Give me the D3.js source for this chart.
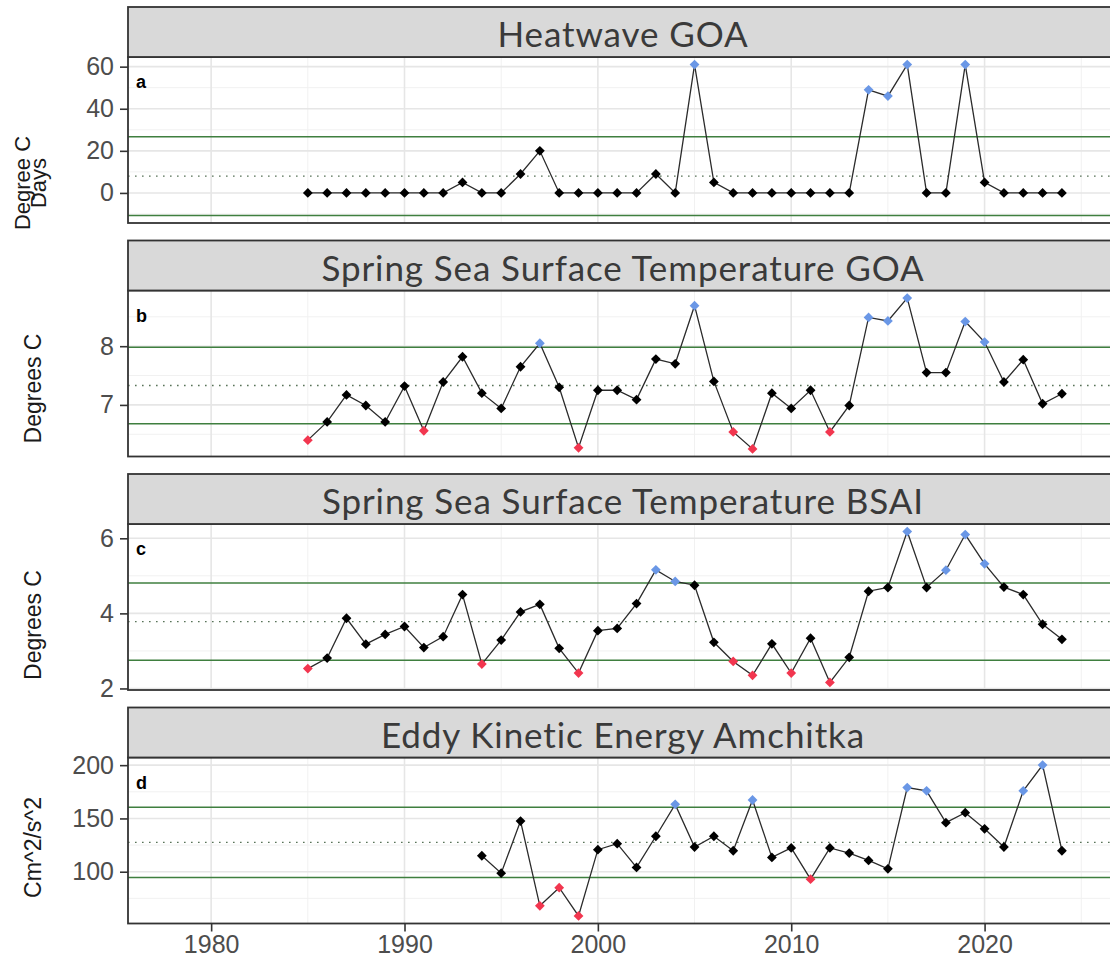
<!DOCTYPE html>
<html>
<head>
<meta charset="utf-8">
<script src="https://cdn.jsdelivr.net/npm/d3@7"></script>
<style>
  body { margin: 0; background: #ffffff; }
  svg { display: block; }
</style>
</head>
<body>
<svg id="chart" width="1110" height="966"></svg>
<script>
// ---- Data -----------------------------------------------------------------
const yearsFull = [1985, 1986, 1987, 1988, 1989, 1990, 1991, 1992, 1993, 1994,
  1995, 1996, 1997, 1998, 1999, 2000, 2001, 2002, 2003, 2004,
  2005, 2006, 2007, 2008, 2009, 2010, 2011, 2012, 2013, 2014,
  2015, 2016, 2017, 2018, 2019, 2020, 2021, 2022, 2023, 2024];

const yearsEke = [1994, 1995, 1996, 1997, 1998, 1999, 2000, 2001, 2002, 2003,
  2004, 2005, 2006, 2007, 2008, 2009, 2010, 2011, 2012, 2013,
  2014, 2015, 2016, 2017, 2018, 2019, 2020, 2021, 2022, 2023, 2024];

// Heatwave index, GOA (degree C days)
const heatwaveGOA = [0, 0, 0, 0, 0, 0, 0, 0, 5, 0,
  0, 9, 20, 0, 0, 0, 0, 0, 9, 0,
  61, 5, 0, 0, 0, 0, 0, 0, 0, 49,
  46, 61, 0, 0, 61, 5, 0, 0, 0, 0];

// Spring sea surface temperature, GOA (degrees C)
const sstGOA = [6.40, 6.71, 7.17, 6.99, 6.71, 7.32, 6.56, 7.39, 7.82, 7.20,
  6.94, 7.65, 8.05, 7.30, 6.27, 7.25, 7.25, 7.09, 7.78, 7.70,
  8.69, 7.40, 6.54, 6.25, 7.20, 6.94, 7.25, 6.54, 6.99, 8.49,
  8.43, 8.82, 7.55, 7.55, 8.42, 8.07, 7.39, 7.77, 7.02, 7.19];

// Spring sea surface temperature, BSAI (degrees C)
const sstBSAI = [2.53, 2.81, 3.87, 3.18, 3.44, 3.65, 3.09, 3.38, 4.50, 2.65,
  3.29, 4.04, 4.24, 3.07, 2.41, 3.54, 3.60, 4.26, 5.16, 4.85,
  4.75, 3.23, 2.72, 2.35, 3.19, 2.41, 3.34, 2.16, 2.83, 4.59,
  4.69, 6.18, 4.69, 5.15, 6.10, 5.32, 4.70, 4.50, 3.71, 3.31];

// Eddy kinetic energy, Amchitka (cm^2/s^2)
const ekeAmchitka = [115.0, 98.6, 147.5, 68.0, 85.0, 58.5, 120.7, 126.3, 104.0, 133.3,
  163.2, 123.2, 133.3, 119.7, 167.3, 113.4, 122.3, 93.0, 122.3, 117.5,
  110.6, 102.7, 179.0, 175.9, 146.0, 155.4, 140.3, 123.2, 175.9, 200.1, 119.7];

// Long-term mean and standard deviation for each indicator
const seriesMeans = [8.0, 7.33, 3.78, 127.5];
const seriesSDs = [18.7, 0.65, 1.03, 33.0];

const stripTitles = ["Heatwave GOA", "Spring Sea Surface Temperature GOA",
  "Spring Sea Surface Temperature BSAI", "Eddy Kinetic Energy Amchitka"];
const panelTags = ["a", "b", "c", "d"];
const yTitles = [["Degree C", "Days"], ["Degrees C"], ["Degrees C"], ["Cm^2/s^2"]];
const yTicks = [[0, 20, 40, 60], [7, 8], [2, 4, 6], [100, 150, 200]];
const yMinorTicks = [[-10, 10, 30, 50], [6.5, 7.5, 8.5], [3, 5], [75, 125, 175]];
const xTicks = [1980, 1990, 2000, 2010, 2020];
const xMinorTicks = [1975, 1985, 1995, 2005, 2015, 2025];
const xLimits = [1975.7, 2026.9];

// ---- Layout ----------------------------------------------------------------
const svg = d3.select("#chart");
const W = 1110, H = 966;
const left = 128, right = 1118;
const top0 = 7, pitch = 233.5, stripH = 50, plotH = 166;
const yTitleCenter = [126, 98, 101, 90];

const colHigh = "#6A97E6", colLow = "#F2364F", colMid = "#000000";
const green = "#3F7F3F";
const axisFont = "'Liberation Sans', Arial, sans-serif";

svg.append("rect").attr("width", W).attr("height", H).attr("fill", "#ffffff");

const x = d3.scaleLinear().domain(xLimits).range([left, right]);

const seriesList = [
  { years: yearsFull, values: heatwaveGOA },
  { years: yearsFull, values: sstGOA },
  { years: yearsFull, values: sstBSAI },
  { years: yearsEke, values: ekeAmchitka }
];

seriesList.forEach((s, i) => {
  const stripTop = top0 + i * pitch;
  const plotTop = stripTop + stripH;
  const plotBottom = plotTop + plotH;
  const mean = seriesMeans[i], sd = seriesSDs[i];
  const lo = mean - sd, hi = mean + sd;

  // y range covers the data and the reference lines, padded by 5%
  const ext = d3.extent(s.values.concat([lo, hi]));
  const pad = (ext[1] - ext[0]) * 0.05;
  const y = d3.scaleLinear().domain([ext[0] - pad, ext[1] + pad]).range([plotBottom, plotTop]);

  const g = svg.append("g");
  const clipId = "clip" + i;
  g.append("clipPath").attr("id", clipId)
    .append("rect").attr("x", left).attr("y", plotTop)
    .attr("width", right - left).attr("height", plotH);

  const body = g.append("g").attr("clip-path", `url(#${clipId})`);
  body.append("rect").attr("x", left).attr("y", plotTop)
    .attr("width", right - left).attr("height", plotH).attr("fill", "#ffffff");

  // grid lines
  body.selectAll(".ymin").data(yMinorTicks[i]).join("line")
    .attr("x1", left).attr("x2", right)
    .attr("y1", d => y(d)).attr("y2", d => y(d))
    .attr("stroke", "#F1F1F1").attr("stroke-width", 1);
  body.selectAll(".xmin").data(xMinorTicks).join("line")
    .attr("x1", d => x(d)).attr("x2", d => x(d))
    .attr("y1", plotTop).attr("y2", plotBottom)
    .attr("stroke", "#F1F1F1").attr("stroke-width", 1);
  body.selectAll(".ymaj").data(yTicks[i]).join("line")
    .attr("x1", left).attr("x2", right)
    .attr("y1", d => y(d)).attr("y2", d => y(d))
    .attr("stroke", "#E6E6E6").attr("stroke-width", 1.6);
  body.selectAll(".xmaj").data(xTicks).join("line")
    .attr("x1", d => x(d)).attr("x2", d => x(d))
    .attr("y1", plotTop).attr("y2", plotBottom)
    .attr("stroke", "#E6E6E6").attr("stroke-width", 1.6);

  // mean (dotted) and mean +/- 1 SD (solid green)
  body.append("line").attr("x1", left).attr("x2", right)
    .attr("y1", y(mean)).attr("y2", y(mean))
    .attr("stroke", "#587358").attr("stroke-width", 1.4)
    .attr("stroke-dasharray", "1.6,5.4");
  [lo, hi].forEach(v => {
    body.append("line").attr("x1", left).attr("x2", right)
      .attr("y1", y(v)).attr("y2", y(v))
      .attr("stroke", green).attr("stroke-width", 1.5);
  });

  const pts = s.years.map((yr, k) => ({ year: yr, value: s.values[k] }));

  body.append("path").datum(pts)
    .attr("fill", "none").attr("stroke", "#2b2b2b").attr("stroke-width", 1.3)
    .attr("d", d3.line().x(d => x(d.year)).y(d => y(d.value)));

  const diamond = d3.symbol().type(d3.symbolSquare).size(48);
  body.selectAll(".pt").data(pts).join("path")
    .attr("d", diamond)
    .attr("transform", d => `translate(${x(d.year)},${y(d.value)}) rotate(45)`)
    .attr("fill", d => d.value > hi ? colHigh : (d.value < lo ? colLow : colMid));

  // panel border
  g.append("rect").attr("x", left).attr("y", plotTop)
    .attr("width", right - left).attr("height", plotH)
    .attr("fill", "none").attr("stroke", "#333333").attr("stroke-width", 1.8);

  // strip
  g.append("rect").attr("x", left).attr("y", stripTop)
    .attr("width", right - left).attr("height", stripH)
    .attr("fill", "#D9D9D9").attr("stroke", "#333333").attr("stroke-width", 1.8);
  g.append("text").attr("x", (left + right) / 2).attr("y", stripTop + 40)
    .attr("text-anchor", "middle")
    .attr("font-family", "Lato, 'Open Sans', sans-serif")
    .attr("font-size", 35).attr("letter-spacing", 0.9).attr("fill", "#3A3A3A")
    .text(stripTitles[i]);

  // panel tag
  g.append("text").attr("x", 136).attr("y", plotTop + 31)
    .attr("font-family", axisFont)
    .attr("font-weight", "bold").attr("font-size", 18).attr("fill", "#000")
    .text(panelTags[i]);

  // y axis
  const yAxis = d3.axisLeft(y).tickValues(yTicks[i]).tickSize(8).tickPadding(6)
    .tickFormat(d3.format("d"));
  const ya = g.append("g").attr("transform", `translate(${left},0)`).call(yAxis);
  ya.select(".domain").remove();
  ya.selectAll(".tick line").attr("stroke", "#333333").attr("stroke-width", 1.6);
  ya.selectAll(".tick text").attr("fill", "#4D4D4D")
    .attr("font-family", axisFont).attr("font-size", 25);

  // y title
  const lines = yTitles[i];
  const cy = plotTop + yTitleCenter[i];
  if (lines.length === 2) {
    lines.forEach((t, k) => {
      g.append("text")
        .attr("transform", `translate(${k === 0 ? 30 : 46},${cy}) rotate(-90)`)
        .attr("text-anchor", "middle")
        .attr("font-family", axisFont)
        .attr("font-size", 22).attr("fill", "#1a1a1a").text(t);
    });
  } else {
    g.append("text")
      .attr("transform", `translate(41,${cy}) rotate(-90)`)
      .attr("text-anchor", "middle")
      .attr("font-family", axisFont)
      .attr("font-size", 23).attr("fill", "#1a1a1a").text(lines[0]);
  }

  // x axis only under the last panel
  if (i === seriesList.length - 1) {
    const xAxis = d3.axisBottom(x).tickValues(xTicks).tickSize(8).tickPadding(4)
      .tickFormat(d3.format("d"));
    const xa = g.append("g").attr("transform", `translate(0,${plotBottom})`).call(xAxis);
    xa.select(".domain").remove();
    xa.selectAll(".tick line").attr("stroke", "#333333").attr("stroke-width", 1.6);
    xa.selectAll(".tick text").attr("fill", "#4D4D4D")
      .attr("font-family", axisFont).attr("font-size", 25);
  }
});
</script>
</body>
</html>
